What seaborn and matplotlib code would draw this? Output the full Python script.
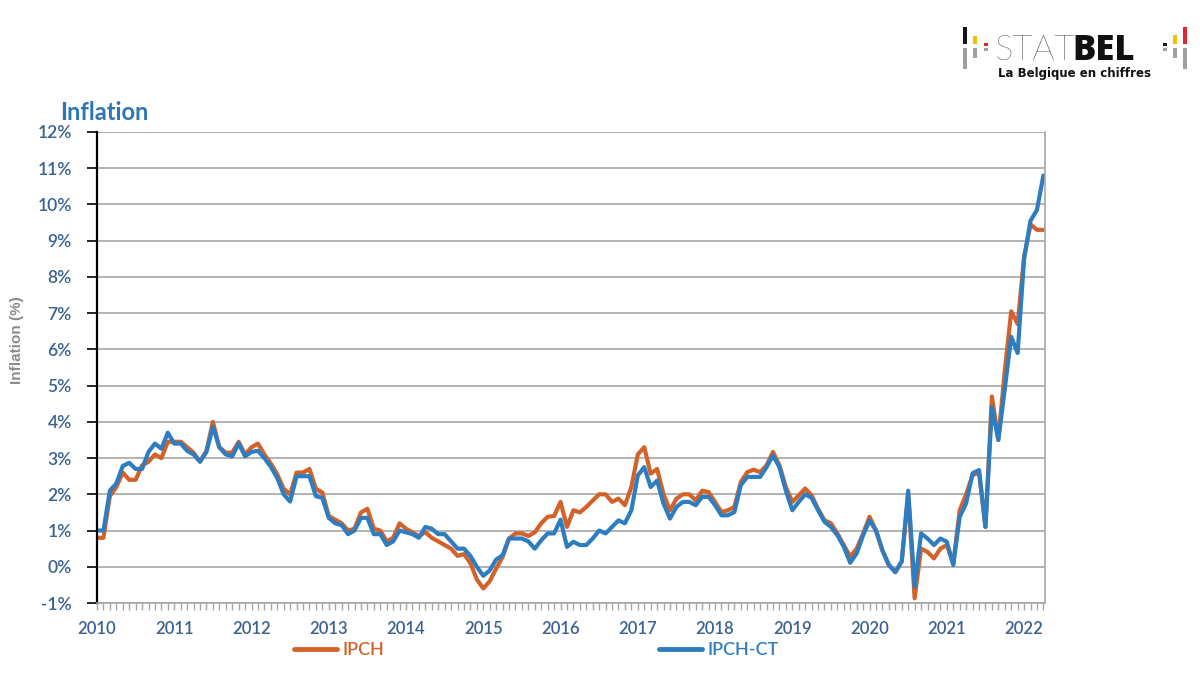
import pandas as pd
import seaborn as sns
import matplotlib.pyplot as plt
from matplotlib.patches import Rectangle
from matplotlib.ticker import MultipleLocator

# Monthly inflation, Jan 2010 - Apr 2022
ipch = [
    0.8, 0.8, 1.95, 2.2, 2.6, 2.4, 2.4, 2.8, 2.9, 3.1, 3.0, 3.45,          # 2010
    3.45, 3.45, 3.3, 3.15, 2.9, 3.2, 4.0, 3.3, 3.15, 3.15, 3.45, 3.1,      # 2011
    3.3, 3.4, 3.1, 2.85, 2.55, 2.15, 2.0, 2.6, 2.6, 2.7, 2.15, 2.05,       # 2012
    1.4, 1.3, 1.2, 1.0, 1.05, 1.5, 1.6, 1.05, 1.0, 0.7, 0.8, 1.2,          # 2013
    1.05, 0.95, 0.85, 0.95, 0.8, 0.7, 0.6, 0.5, 0.3, 0.35, 0.1, -0.35,     # 2014
    -0.6, -0.4, -0.05, 0.27, 0.78, 0.92, 0.92, 0.85, 0.95, 1.2, 1.38, 1.4, # 2015
    1.79, 1.1, 1.56, 1.5, 1.65, 1.83, 2.0, 2.0, 1.79, 1.88, 1.7, 2.2,      # 2016
    3.1, 3.3, 2.57, 2.7, 2.0, 1.56, 1.88, 2.0, 2.0, 1.83, 2.1, 2.06,       # 2017
    1.79, 1.51, 1.56, 1.65, 2.34, 2.61, 2.68, 2.61, 2.8, 3.17, 2.8, 2.2,   # 2018
    1.79, 1.97, 2.16, 1.97, 1.6, 1.28, 1.2, 0.92, 0.6, 0.28, 0.5, 0.92,    # 2019
    1.38, 1.0, 0.45, 0.05, -0.15, 0.15, 2.0, -0.87, 0.5, 0.41, 0.23, 0.5,  # 2020
    0.6, 0.09, 1.56, 2.0, 2.53, 2.6, 1.1, 4.7, 3.5, 5.4, 7.05, 6.7,        # 2021
    8.55, 9.45, 9.3, 9.3,                                                  # 2022
]
ipch_ct = [
    1.0, 1.0, 2.1, 2.3, 2.78, 2.87, 2.7, 2.7, 3.17, 3.4, 3.26, 3.7,
    3.4, 3.4, 3.2, 3.1, 2.9, 3.17, 3.86, 3.3, 3.1, 3.05, 3.4, 3.05,
    3.17, 3.2, 3.0, 2.76, 2.45, 2.0, 1.8, 2.5, 2.5, 2.5, 1.95, 1.9,
    1.35, 1.2, 1.15, 0.9, 1.0, 1.35, 1.35, 0.9, 0.9, 0.6, 0.7, 1.0,
    0.95, 0.9, 0.8, 1.1, 1.05, 0.9, 0.9, 0.7, 0.5, 0.5, 0.3, 0.0,
    -0.25, -0.1, 0.2, 0.32, 0.78, 0.78, 0.78, 0.7, 0.5, 0.73, 0.92, 0.92,
    1.3, 0.55, 0.69, 0.6, 0.6, 0.78, 1.0, 0.92, 1.1, 1.28, 1.2, 1.56,
    2.52, 2.75, 2.2, 2.38, 1.74, 1.33, 1.65, 1.79, 1.79, 1.7, 1.93, 1.93,
    1.7, 1.42, 1.42, 1.51, 2.25, 2.48, 2.48, 2.48, 2.75, 3.07, 2.75, 2.1,
    1.56, 1.79, 2.0, 1.9, 1.56, 1.24, 1.1, 0.87, 0.55, 0.11, 0.37, 0.87,
    1.28, 1.0, 0.45, 0.05, -0.15, 0.15, 2.1, -0.55, 0.92, 0.78, 0.6, 0.78,
    0.69, 0.05, 1.38, 1.75, 2.58, 2.67, 1.1, 4.4, 3.5, 4.9, 6.35, 5.9,
    8.5, 9.55, 9.85, 10.8,
]
years = list(range(2010, 2023))
series_names = ["IPCH", "IPCH-CT"]
colors = ["#D2622A", "#2E7DC1"]

n = len(ipch)
df = pd.DataFrame({
    "month": list(range(n)) * 2,
    "value": ipch + ipch_ct,
    "serie": [series_names[0]] * n + [series_names[1]] * n,
})

sns.set_style("white")
plt.rcParams["font.family"] = ["Lato", "DejaVu Sans"]

fig = plt.figure(figsize=(12, 6.75), dpi=100)
ax = fig.add_axes([97 / 1200, 1 - 603 / 675, (1045 - 97) / 1200, (603 - 132) / 675])

sns.lineplot(data=df, x="month", y="value", hue="serie", palette=colors,
             linewidth=3, ax=ax, legend=True)

label_col = "#3A6190"
ax.set_xlim(0, n - 1 + 0.25)
ax.set_ylim(-1, 12)
ax.set_yticks(range(-1, 13))
ax.set_yticklabels([f"{v}%" for v in range(-1, 13)], fontsize=12.5, color=label_col,
                   fontweight="semibold")
ax.set_xticks([12 * i for i in range(len(years))])
ax.set_xticklabels([str(y) for y in years], fontsize=12, color=label_col,
                   fontweight="semibold")
ax.xaxis.set_minor_locator(MultipleLocator(1))
ax.tick_params(axis="y", direction="out", length=7, width=1.2, color="black", left=True, pad=11)
ax.tick_params(axis="x", which="both", direction="out", length=5, width=1, color="#A6A6A6",
               bottom=True, pad=8)
ax.set_xlabel("")
ax.set_ylabel("")
ax.grid(axis="y", color="#A6A6A6", linewidth=1.2)
ax.set_axisbelow(True)
for side in ["top", "right", "bottom"]:
    ax.spines[side].set_color("#A6A6A6")
    ax.spines[side].set_linewidth(1.2)
ax.spines["top"].set_visible(False)
ax.spines["left"].set_color("black")
ax.spines["left"].set_linewidth(1.6)

# legend below the plot, colored text like the original
handles, labels = ax.get_legend_handles_labels()
ax.legend_.remove()
for h in handles:
    h.set_linewidth(3.5)
fig.legend(handles, labels, loc="center left", bbox_to_anchor=(285 / 1200, 1 - 650 / 675),
           ncol=2, frameon=False, handlelength=2.4, handletextpad=0.3,
           columnspacing=15.2, borderpad=0, labelcolor=colors,
           prop={"weight": "semibold", "size": 13})

fig.text(60 / 1200, 1 - 112 / 675, "Inflation", fontsize=17, fontweight="bold",
         color="#2E75B6", va="center", ha="left")
fig.text(17 / 1200, 1 - 340 / 675, "Inflation (%)", rotation=90, fontsize=11,
         fontweight="bold", color="#8C8C8C", va="center", ha="center",
         family=["Liberation Sans", "DejaVu Sans"])

# STATBEL logo
fig.text(1074 / 1200, 1 - 60 / 675, "STAT", fontsize=25, fontweight="light",
         color="#111111", va="baseline", ha="right")
fig.text(1072 / 1200, 1 - 60 / 675, "BEL", fontsize=25, fontweight="heavy",
         color="#111111", va="baseline", ha="left", family=["Open Sans", "DejaVu Sans"])
fig.text(1075 / 1200, 1 - 74 / 675, "La Belgique en chiffres", fontsize=8.5,
         fontweight="bold", color="#111111", va="center", ha="center",
         family=["DejaVu Sans"])


def bar(x, y, w, h, c):
    fig.patches.append(Rectangle((x / 1200, 1 - (y + h) / 675), w / 1200, h / 675,
                                 transform=fig.transFigure, color=c, lw=0))


gray, blk, yel, red = "#A0A0A0", "#151515", "#F2C200", "#E0262B"
bar(963, 27, 4, 17, blk); bar(963, 48, 4, 21, gray)
bar(973, 36, 4, 8, yel); bar(973, 48, 4, 10, gray)
bar(984, 43, 4, 3, red); bar(984, 48, 4, 3, gray)
bar(1163, 43, 4, 3, blk); bar(1163, 48, 4, 3, gray)
bar(1173, 35, 4, 9, yel); bar(1173, 48, 4, 10, gray)
bar(1183, 27, 4, 17, red); bar(1183, 48, 4, 21, gray)

fig.savefig("out.png", dpi=100, facecolor="white")
